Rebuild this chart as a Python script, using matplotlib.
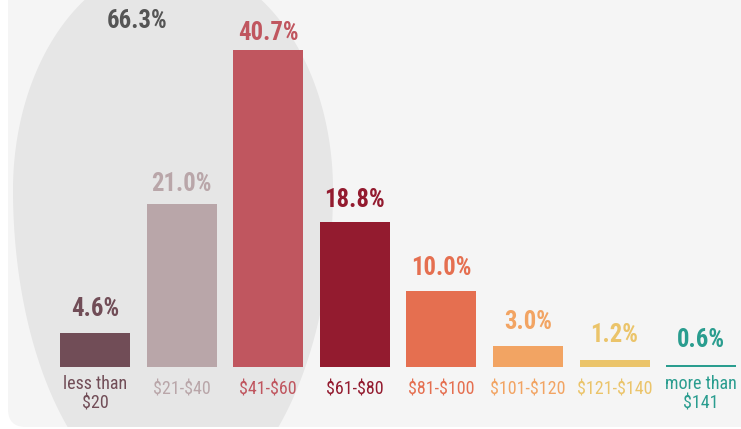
import numpy as np
import matplotlib
matplotlib.use("Agg")
import matplotlib.pyplot as plt
from matplotlib.patches import FancyBboxPatch, Rectangle, PathPatch
from matplotlib.path import Path

categories = ["less than\n$20", "$21-$40", "$41-$60", "$61-$80", "$81-$100",
              "$101-$120", "$121-$140", "more than\n$141"]
values = [4.6, 21.0, 40.7, 18.8, 10.0, 3.0, 1.2, 0.6]
value_labels = ["4.6%", "21.0%", "40.7%", "18.8%", "10.0%", "3.0%", "1.2%", "0.6%"]
colors = ["#714d57", "#b9a6a9", "#c0565f", "#931b2f", "#e56f50",
          "#f2a463", "#ebc46a", "#2a9d8f"]
group_label = "66.3%"

fam = ["Roboto Condensed", "Liberation Sans Narrow", "Roboto", "DejaVu Sans"]
plt.rcParams["font.family"] = fam

W, H = 741, 429
fig = plt.figure(figsize=(W / 100, H / 100), dpi=100)
fig.patch.set_facecolor("white")
ax = fig.add_axes([0, 0, 1, 1])
ax.set_axis_off()

step = 86.6
x0px = 95
scale = 7.86
zero_from_bottom = 59.5
ax.set_xlim(-x0px / step, (W - x0px) / step)
ax.set_ylim(-zero_from_bottom / scale, (H - zero_from_bottom) / scale)

# background panel (axes fraction)
panel = FancyBboxPatch((8 / W, 2 / H), 1.2, 1.2, boxstyle="round,pad=0,rounding_size=0.024",
                       transform=ax.transAxes, facecolor="#f5f5f5", edgecolor="none",
                       mutation_aspect=W / H, zorder=0)
ax.add_patch(panel)

# egg-shaped highlight behind the first three bars (pixel space -> axes fraction)
cx, cy, a, b_top, b_bot = 173, 190, 160, 228, 315
t = np.linspace(0, 2 * np.pi, 400)
px = cx + a * np.cos(t)
s = np.sin(t)
py_top = cy - np.where(s > 0, b_top, b_bot) * s  # y measured from top
verts = np.column_stack([px / W, 1 - py_top / H])
egg = PathPatch(Path(verts, closed=True), transform=ax.transAxes,
                facecolor="#e6e6e6", edgecolor="none", zorder=1)
ax.add_patch(egg)
egg.set_clip_path(panel)

xs = list(range(len(values)))
bars = ax.bar(xs, values, width=70 / step, color=colors, zorder=2)
clip = Rectangle((0, 62 / H), 1, 1, transform=ax.transAxes)
for bar in bars:
    bar.set_clip_path(clip)

for x, v, lab, c in zip(xs, values, value_labels, colors):
    ax.annotate(lab, (x, v), xytext=(0, 18 - 0.2 * v), textcoords="offset pixels",
                ha="center", va="baseline", fontsize=17.8, fontweight="bold",
                color=c, zorder=3)

for x, cat, c in zip(xs, categories, colors):
    nlines = cat.count("\n") + 1
    ax.annotate(cat, (x, 0), xytext=(0, -25.5 - 13 * (nlines - 1)), textcoords="offset pixels",
                ha="center", va="baseline", fontsize=13, color=c,
                linespacing=1.1, zorder=3, parse_math=False)

ax.annotate(group_label, (137 / W, 1 - 21 / H), xycoords="axes fraction",
            ha="center", va="center", fontsize=17.8, fontweight="bold", color="#555555",
            zorder=3)

fig.savefig("out.png", dpi=100)
